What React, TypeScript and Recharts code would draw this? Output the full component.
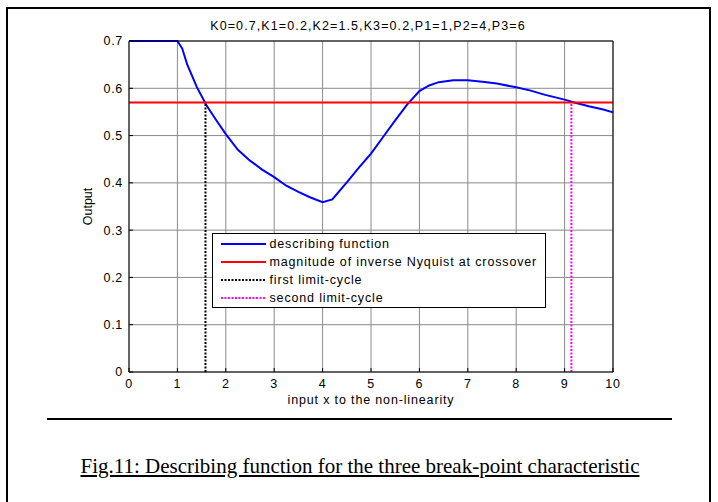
import { LineChart, Line, XAxis, YAxis, CartesianGrid, Legend } from 'recharts';

// describing function samples
const DF_X = [0, 1, 1.1, 1.2, 1.4, 1.6, 1.8, 2, 2.25, 2.5, 2.75, 3, 3.25, 3.5, 3.75, 4, 4.2, 4.5, 4.75, 5, 5.25, 5.5, 5.75, 6, 6.2, 6.4, 6.7, 7, 7.3, 7.6, 8, 8.3, 8.6, 9, 9.2, 9.5, 9.8, 10];
const DF_Y = [0.7, 0.7, 0.684, 0.651, 0.603, 0.564, 0.533, 0.503, 0.47, 0.447, 0.428, 0.412, 0.394, 0.381, 0.369, 0.359, 0.365, 0.401, 0.432, 0.462, 0.497, 0.532, 0.566, 0.594, 0.606, 0.613, 0.617, 0.617, 0.614, 0.61, 0.602, 0.595, 0.586, 0.576, 0.57, 0.562, 0.555, 0.549];

const CROSSOVER_MAG = 0.57;
const FIRST_LC = 1.58;
const SECOND_LC = 9.14;

const X_TICKS = [0, 1, 2, 3, 4, 5, 6, 7, 8, 9, 10];
const Y_TICKS = [0, 0.1, 0.2, 0.3, 0.4, 0.5, 0.6, 0.7];

const TITLE = 'K0=0.7,K1=0.2,K2=1.5,K3=0.2,P1=1,P2=4,P3=6';
const X_LABEL = 'input x to the non-linearity';
const Y_LABEL = 'Output';
const CAPTION = 'Fig.11: Describing function for the three break-point characteristic';
const NAMES = ['describing function', 'magnitude of inverse Nyquist at crossover', 'first limit-cycle', 'second limit-cycle'];

const STYLES = [
    { color: '#0000ff', dash: undefined as string | undefined },
    { color: '#ff0000', dash: undefined as string | undefined },
    { color: '#000000', dash: '2 1.5' },
    { color: '#ff00ff', dash: '2 1.5' },
];

const describing = DF_X.map((x, i) => ({ x, y: DF_Y[i] }));
const crossover = [{ x: 0, y: CROSSOVER_MAG }, { x: 10, y: CROSSOVER_MAG }];
const firstLc = [{ x: FIRST_LC, y: 0 }, { x: FIRST_LC, y: CROSSOVER_MAG }];
const secondLc = [{ x: SECOND_LC, y: 0 }, { x: SECOND_LC, y: CROSSOVER_MAG }];
const SERIES = [describing, crossover, firstLc, secondLc];

const SANS = '"Liberation Sans", Arial, sans-serif';
const tickStyle = { fill: '#000', fontSize: 12.5, fontFamily: SANS, style: { letterSpacing: '0.7px' } };

const YLabel = ({ viewBox }: any) => {
    const cx = 92;
    const cy = viewBox.y + viewBox.height / 2;
    return (
        <text x={cx} y={cy} transform={`rotate(-90 ${cx} ${cy})`} textAnchor="middle"
            fill="#000" fontSize={12.5} fontFamily={SANS}>
            {Y_LABEL}
        </text>
    );
};

const renderLegend = () => (
    <div style={{
        width: 334, height: 75, boxSizing: 'border-box', border: '1.5px solid #000', background: '#fff',
        paddingTop: 1, fontFamily: SANS, fontSize: 12.5, letterSpacing: '0.85px', color: '#000',
    }}>
        {NAMES.map((name, i) => (
            <div key={name} style={{ display: 'flex', alignItems: 'center', height: 18 }}>
                <svg width={45} height={6} style={{ marginLeft: 7.5, marginRight: 4 }}>
                    <line x1={0} y1={3} x2={45} y2={3} stroke={STYLES[i].color} strokeWidth={2}
                        strokeDasharray={STYLES[i].dash} />
                </svg>
                <span style={{ whiteSpace: 'nowrap' }}>{name}</span>
            </div>
        ))}
    </div>
);

export default function App() {
    return (
        <div style={{ position: 'absolute', left: 0, top: 0, width: 718, height: 502, overflow: 'hidden', background: '#fff' }}>
            <div style={{
                position: 'absolute', left: 6, top: 7, width: 701, height: 600,
                borderLeft: '2px solid #000', borderTop: '2px solid #000', borderRight: '2px solid #000',
            }} />
            <div style={{
                position: 'absolute', left: 168, top: 19, width: 400, textAlign: 'center',
                fontFamily: SANS, fontSize: 12.5, lineHeight: '15px', letterSpacing: '1.1px', color: '#000',
            }}>{TITLE}</div>
            <div style={{ position: 'absolute', left: 0, top: 0 }}>
                <LineChart width={718} height={420} margin={{ top: 40, right: 104, bottom: 18, left: 79 }}>
                    <CartesianGrid stroke="#8a8a8a" strokeWidth={1} />
                    <XAxis xAxisId={0} dataKey="x" type="number" domain={[0, 10]} ticks={X_TICKS} interval={0}
                        height={30} stroke="#000" tickSize={-4} tickMargin={11} tick={tickStyle}
                        label={{ value: X_LABEL, position: 'insideBottom', offset: -2, fill: '#000', fontSize: 12.5, fontFamily: SANS, style: { letterSpacing: '0.85px' } }} />
                    <XAxis xAxisId="top" orientation="top" dataKey="x" type="number" domain={[0, 10]} ticks={X_TICKS}
                        interval={0} height={1} stroke="#000" tickSize={-4} tick={false} />
                    <YAxis yAxisId={0} type="number" domain={[0, 0.7]} ticks={Y_TICKS} interval={0}
                        width={50} stroke="#000" tickSize={-4} tickMargin={10} tick={tickStyle} label={<YLabel />} />
                    <YAxis yAxisId="right" orientation="right" type="number" domain={[0, 0.7]} ticks={Y_TICKS}
                        interval={0} width={1} stroke="#000" tickSize={-4} tick={false} />
                    {SERIES.map((data, i) => (
                        <Line key={NAMES[i]} name={NAMES[i]} data={data} dataKey="y" type="linear"
                            stroke={STYLES[i].color} strokeWidth={2} strokeDasharray={STYLES[i].dash}
                            dot={false} activeDot={false} isAnimationActive={false} />
                    ))}
                    <Legend layout="vertical" align="center" verticalAlign="middle" content={renderLegend}
                        wrapperStyle={{ left: 212, top: 233, width: 334, height: 75 }} />
                </LineChart>
            </div>
            <div style={{ position: 'absolute', left: 47, top: 418, width: 625, height: 2, background: '#000' }} />
            <div style={{
                position: 'absolute', left: 0, top: 454, width: 720, textAlign: 'center',
                fontFamily: '"Liberation Serif", "Times New Roman", serif', fontSize: 21, lineHeight: '24px', color: '#000',
            }}>
                <span style={{ textDecoration: 'underline' }}>{CAPTION}</span>
            </div>
        </div>
    );
}
